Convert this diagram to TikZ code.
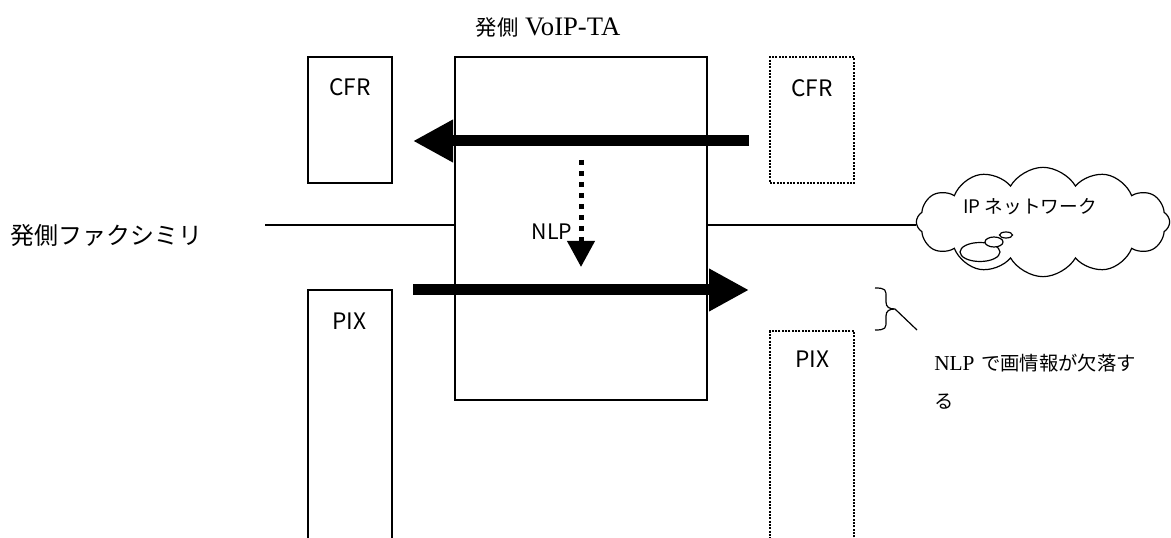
\documentclass[tikz,border=0pt]{standalone}
\usepackage{fontspec}
\setmainfont{Liberation Serif}
\newfontfamily\jpfont{Noto Sans CJK JP}
\usepackage{tikz}
\usetikzlibrary{arrows.meta,shapes.symbols,fit,positioning}

\begin{document}
\begin{tikzpicture}[x=0.75pt,y=-0.75pt,
    box/.style={draw, line width=0.9pt, inner sep=0pt},
    dotbox/.style={draw, line width=1.5pt, dash pattern=on 1.5pt off 1pt, inner sep=0pt},
    sig/.style={line width=8.25pt, -{Triangle[length=30pt,width=30pt]}},
    gothic/.style={font=\jpfont\fontsize{17}{20}\selectfont}]
    \useasboundingbox (0,0) rectangle (1171,538);

    % VoIP-TA and the frames on both sides
    \node[font=\fontsize{20}{24}\selectfont] (title) at (548,27) {{\jpfont\fontsize{16}{19}\selectfont 発側} VoIP-TA};
    \node[box, fit={(455,57) (707,400)}] (ta) {};
    \node[box, fit={(308,57) (392,183)}] (cfrL) {};
    \node[box, fit={(308,290) (392,560)}] (pixL) {};
    \node[dotbox, fit={(770,57) (854,183)}] (cfrR) {};
    \node[dotbox, fit={(770,331) (854,560)}] (pixR) {};
    \node[gothic] (cfrLtxt) at (350,87) {CFR};
    \node[gothic] (pixLtxt) at (349,321) {PIX};
    \node[gothic] (cfrRtxt) at (812,88) {CFR};
    \node[gothic] (pixRtxt) at (812,359) {PIX};

    % Fax side and network
    \node[font=\jpfont\fontsize{18}{21}\selectfont] (fax) at (107,235) {発側ファクシミリ};
    \node[cloud, draw, line width=0.9pt, cloud puffs=12, cloud puff arc=120, aspect=2.7,
          minimum width=190pt, minimum height=82pt, inner sep=0pt] (ipnet) at (1043,222) {};
    \node[font=\jpfont\fontsize{14}{17}\selectfont] (iptxt) at (1030,207) {IP ネットワーク};
    \draw[line width=0.9pt, fill=white] (980,252) ellipse [x radius=20, y radius=9.5];
    \draw[line width=0.9pt, fill=white] (994,242) ellipse [x radius=9, y radius=5];
    \draw[line width=0.9pt, fill=white] (1006,235) ellipse [x radius=6.5, y radius=3];
    \coordinate (faxend) at (265,225);
    \draw[line width=0.9pt] (faxend) -- (ta.west |- faxend);
    \draw[line width=0.9pt] (ta.east |- faxend) -- (ipnet.west |- faxend);

    % Signals
    \coordinate (cfrfrom) at (749,141);
    \coordinate (cfrto) at (413,141);
    \coordinate (pixfrom) at (413,290);
    \coordinate (pixto) at (749,290);
    \draw[sig] (cfrfrom) -- (cfrto);
    \draw[sig] (pixfrom) -- (pixto);

    % NLP
    \coordinate (nlpfrom) at (581,160);
    \coordinate (nlpto) at (581,267);
    \draw[line width=3.75pt, dash pattern=on 3.75pt off 4.5pt,
          -{Triangle[length=19.5pt,width=20pt]}] (nlpfrom) -- (nlpto);
    \node[gothic, font=\jpfont\fontsize{16}{19}\selectfont] (nlp) at (552,232) {NLP};

    % Note on the lost picture data
    \coordinate (bracetip) at (895,309);
    \coordinate (notept) at (917,330);
    \draw[line width=0.9pt] (875,288) .. controls (886,288) and (886,290) .. (886,297)
        -- (886,302) .. controls (886,307) and (889,309) .. (bracetip)
        .. controls (889,309) and (886,311) .. (886,316) -- (886,321)
        .. controls (886,328) and (886,330) .. (875,330);
    \draw[line width=0.9pt] (bracetip) -- (notept);
    \node[anchor=west, font=\fontsize{14.5}{17}\selectfont, inner sep=0pt] (note1) at (934,363)
        {{\fontsize{16}{18}\selectfont NLP}\hspace{5pt}{\jpfont で画情報が欠落す}};
    \node[anchor=west, font=\jpfont\fontsize{14.5}{17}\selectfont, inner sep=0pt] (note2) at (934,402) {る};
\end{tikzpicture}
\end{document}
